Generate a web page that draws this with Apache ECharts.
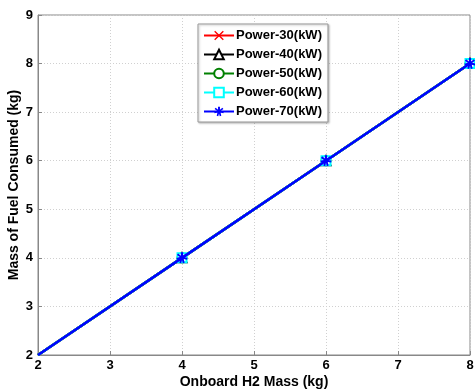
<!DOCTYPE html>
<html><head><meta charset="utf-8">
<script src="https://cdn.jsdelivr.net/npm/echarts@6/dist/echarts.min.js"></script>
<style>html,body{margin:0;padding:0;background:#fff}#c{width:475px;height:391px}</style>
</head><body><div id="c"></div>
<script>
const h2Mass = [2, 4, 6, 8];
const fuel30 = [2, 4, 6, 8];
const fuel40 = [2, 4, 6, 8];
const fuel50 = [2, 4, 6, 8];
const fuel60 = [2, 4, 6, 8];
const fuel70 = [2, 4, 6, 8];
const seriesNames = ['Power-30(kW)', 'Power-40(kW)', 'Power-50(kW)', 'Power-60(kW)', 'Power-70(kW)'];
const seriesColors = ['#ff0000', '#000000', '#008000', '#00ffff', '#0000ff'];
const seriesValues = [fuel30, fuel40, fuel50, fuel60, fuel70];

const crossPath = 'path://M1,0L5,4L9,0L10,1L6,5L10,9L9,10L5,6L1,10L0,9L4,5L0,1Z';
const starPath = 'path://M4,0L6,0L6,3L8.5,1L9.6,2.4L7,4.2L10,5L9.6,6.6L6.6,6L7.4,9.2L5.8,9.8L5,7L4.2,9.8L2.6,9.2L3.4,6L0.4,6.6L0,5L3,4.2L0.4,2.4L1.5,1L4,3Z';
const symbols = [crossPath, 'emptyTriangle', 'emptyCircle', 'emptyRect', starPath];
const sizes = [8, 9, 9, 9, 11];

const chart = echarts.init(document.getElementById('c'), null, {renderer: 'canvas'});
const series = seriesNames.map((n, i) => ({
  name: n,
  type: 'line',
  data: h2Mass.map((x, j) => j === 0 ? {value: [x, seriesValues[i][j]], symbol: 'none'} : [x, seriesValues[i][j]]),
  symbol: symbols[i],
  symbolSize: sizes[i],
  showSymbol: true,
  lineStyle: {color: seriesColors[i], width: 2.5},
  itemStyle: {color: seriesColors[i], borderColor: seriesColors[i], borderWidth: (i === 0 || i === 4) ? 0 : 1.5},
  emphasis: {disabled: true},
  animation: false,
  z: 2 + i
}));

chart.setOption({
  animation: false,
  backgroundColor: '#fff',
  textStyle: {fontFamily: 'Liberation Sans, Arial, sans-serif'},
  grid: {left: 38, right: 5, top: 15, bottom: 36, show: true, borderColor: '#888', borderWidth: 1, containLabel: false, outerBoundsMode: 'none'},
  legend: {
    left: 198, top: 24, orient: 'vertical',
    data: seriesNames,
    itemWidth: 30, itemHeight: 12, itemGap: 6,
    padding: [5, 6, 4, 5],
    borderColor: '#999', borderWidth: 1, backgroundColor: '#fff',
    shadowColor: 'rgba(0,0,0,0.25)', shadowBlur: 2, shadowOffsetX: 1, shadowOffsetY: 1,
    textStyle: {color: '#000', fontWeight: 'bold', fontSize: 13, fontFamily: 'Liberation Sans, Arial, sans-serif', padding: [0, 0, 0, -3]},
    selectedMode: false
  },
  xAxis: {
    type: 'value', min: 2, max: 8, interval: 1,
    name: 'Onboard H2 Mass (kg)', nameLocation: 'middle', nameGap: 20, nameMoveOverlap: false,
    nameTextStyle: {color: '#000', fontWeight: 'bold', fontSize: 14},
    axisLine: {show: true, lineStyle: {color: '#888'}},
    axisTick: {show: true, inside: true, length: 4, lineStyle: {color: '#888'}},
    axisLabel: {color: '#000', fontWeight: 'bold', fontSize: 13, margin: 4},
    splitLine: {show: true, lineStyle: {color: '#d0d0d0', type: [1, 2]}}
  },
  yAxis: {
    type: 'value', min: 2, max: 9, interval: 1,
    name: 'Mass of Fuel Consumed (kg)', nameLocation: 'middle', nameGap: 17, nameMoveOverlap: false,
    nameTextStyle: {color: '#000', fontWeight: 'bold', fontSize: 14},
    axisLine: {show: true, lineStyle: {color: '#888'}},
    axisTick: {show: true, inside: true, length: 4, lineStyle: {color: '#888'}},
    axisLabel: {color: '#000', fontWeight: 'bold', fontSize: 13, margin: 5},
    splitLine: {show: true, lineStyle: {color: '#d0d0d0', type: [1, 2]}}
  },
  series: series
});
</script></body></html>
